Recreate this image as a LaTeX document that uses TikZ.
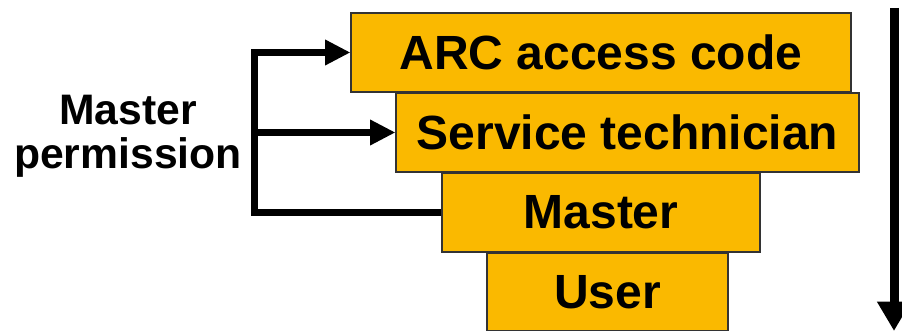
\documentclass[tikz,border=0pt]{standalone}
\usepackage{fontspec}
\setmainfont{Liberation Sans}
\usetikzlibrary{arrows.meta}

\definecolor{levelfill}{RGB}{250,185,0}

\tikzset{
    level box/.style={draw=black!80, line width=0.8pt, fill=levelfill, inner sep=0pt,
        font=\fontsize{36}{40}\selectfont\bfseries},
    grant/.style={line width=5.25pt, line join=miter,
        -{Triangle[length=19pt, width=18pt]}},
}

\begin{document}
\begin{tikzpicture}[x=0.75pt, y=-0.75pt]
\useasboundingbox (0,0) rectangle (902,331);

% the four levels, widest at the top
\node [level box, minimum width=375pt, minimum height=59.25pt] (arc) at (601,52.5) {ARC access code};
\node [level box, minimum width=347.25pt, minimum height=59.25pt] (tech) at (627.5,132.5) {Service technician};
\node [level box, minimum width=238.5pt, minimum height=59.25pt] (master) at (601,212.5) {Master};
\node [level box, minimum width=180.75pt, minimum height=58.5pt] (user) at (607.5,292) {User};

% who may grant what
\node [font=\fontsize{32}{33}\selectfont\bfseries, align=center] (perm) at (128,136) {Master\\permission};
\coordinate (spine) at (254,0);
\draw [grant] (master.west) -| (spine |- arc.west) -- (arc.west);
\draw [grant] (spine |- tech.west) -- (tech.west);

% order of the levels
\coordinate (top) at (894,8);
\coordinate (bottom) at (894,331);
\draw [line width=6.75pt, -{Triangle[length=22pt, width=24pt]}] (top) -- (bottom);
\end{tikzpicture}
\end{document}
